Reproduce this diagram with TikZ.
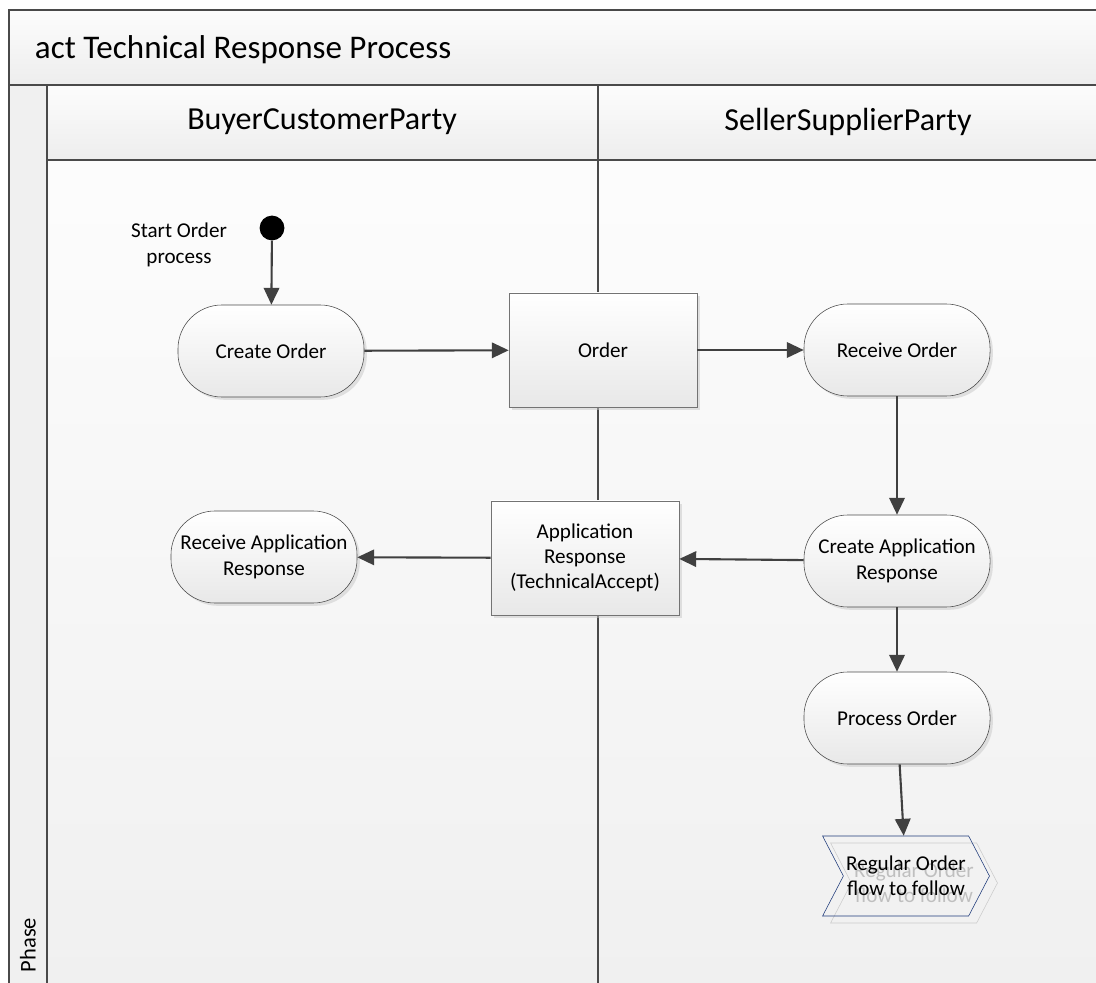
\documentclass[tikz,border=0pt]{standalone}
\usepackage{fontspec}
\setmainfont{Carlito}
\usetikzlibrary{arrows.meta, positioning, shapes.symbols, shadows}
\definecolor{umline}{HTML}{404040}
\definecolor{umframe}{HTML}{4A4A4A}
\definecolor{umblue}{HTML}{1F3A7A}

\begin{document}
\begin{tikzpicture}[x=0.025cm, y=-0.025cm,
  frame/.style={draw=umframe, line width=1.4pt},
  action/.style={rectangle, rounded corners=1.1cm, draw=umframe, top color=white, bottom color=black!9, minimum width=4.65cm, minimum height=2.3cm, font=\fontsize{15}{18}\selectfont, align=center, drop shadow={shadow xshift=2pt, shadow yshift=-2pt, fill=black!22}},
  object/.style={rectangle, draw=black!55, top color=white, bottom color=black!9, minimum width=4.7cm, minimum height=2.85cm, font=\fontsize{15}{18}\selectfont, align=center, drop shadow={shadow xshift=2pt, shadow yshift=-2pt, fill=black!22}},
  flowend/.style={signal, signal from=west, signal to=east, signal pointer angle=125, draw=#1, minimum width=3.95cm, minimum height=2cm, inner sep=2pt, font=\fontsize{15}{18}\selectfont, align=center},
  lanehead/.style={font=\fontsize{22.8}{26}\selectfont},
  arr/.style={-{Triangle[length=12pt, width=11pt]}, line width=1.5pt, draw=umline},
]
  \useasboundingbox (0,0) rectangle (1096,983);
  \clip (0,0) rectangle (1096,983);

  % Frame and title
  \draw[frame, top color=black!1, bottom color=black!7] (9,10) rectangle (1120,85);
  \node[anchor=west, font=\fontsize{23.5}{27}\selectfont] (title) at (30,50) {act Technical Response Process};

  % Phase column
  \draw[frame, fill=black!6] (9,85) rectangle (47,1010);
  \node[rotate=90, anchor=west, font=\fontsize{16}{18}\selectfont] (phase) at (28,977) {Phase};

  % Swimlanes
  \draw[frame, top color=black!1, bottom color=black!7] (47,85) rectangle (598,160);
  \draw[frame, top color=black!1, bottom color=black!7] (598,85) rectangle (1120,160);
  \draw[frame, top color=black!1, bottom color=black!6] (47,160) rectangle (598,1010);
  \draw[frame, top color=black!1, bottom color=black!6] (598,160) rectangle (1120,1010);
  \node[lanehead] (buyer) at (322,122) {BuyerCustomerParty};
  \node[lanehead] (seller) at (848,122) {SellerSupplierParty};

  % Start
  \node[circle, fill=black, minimum size=0.62cm, inner sep=0pt] (start) at (272,228) {};
  \node[font=\fontsize{15}{18}\selectfont, align=center] (startlbl) at (179,245) {Start Order\\process};

  % Buyer actions
  \node[action] (createorder) at (271,351) {Create Order};
  \node[action] (recvresp) at (264,557) {Receive Application\\Response};

  % Exchanged documents
  \node[object] (order) at (603,350) {Order};
  \node[object] (appresp) at (585,558) {Application\\Response\\(TechnicalAccept)};

  % Seller actions
  \node[action] (recvorder) at (897,350) {Receive Order};
  \node[action] (createresp) at (897,561) {Create Application\\Response};
  \node[action] (procorder) at (897,718) {Process Order};

  % Continuation
  \node[flowend=black!20, text=black!25] (regshadow) at (914,883) {Regular Order\\flow to follow};
  \node[flowend=umblue] (regular) at (906,876) {Regular Order\\flow to follow};

  % Arrows
  \draw[arr] (start) -- (createorder);
  \draw[arr] (createorder) -- (order);
  \draw[arr] (order) -- (recvorder);
  \draw[arr] (recvorder) -- (createresp);
  \draw[arr] (createresp) -- (appresp);
  \draw[arr] (appresp) -- (recvresp);
  \draw[arr] (createresp) -- (procorder);
  \draw[arr] (procorder) -- (regular);
\end{tikzpicture}
\end{document}
